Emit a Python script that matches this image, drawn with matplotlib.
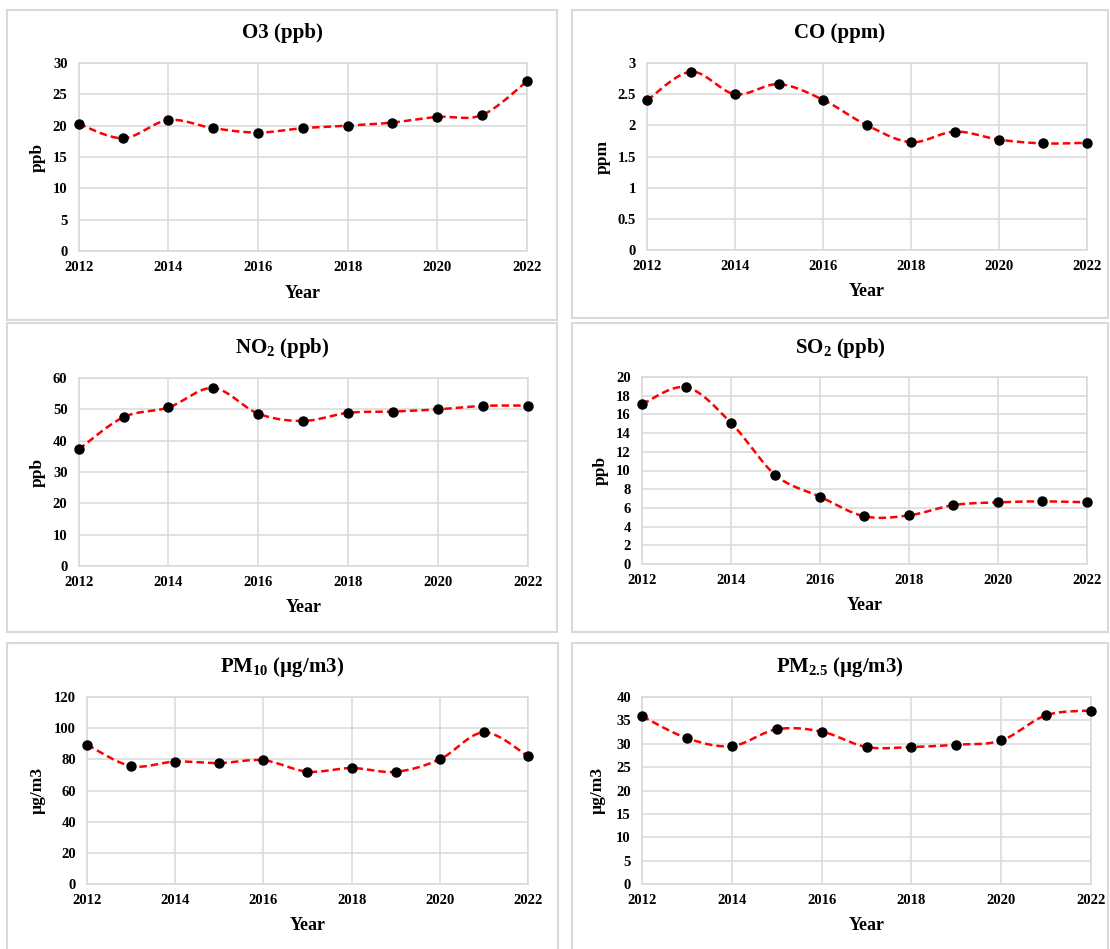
import numpy as np
import matplotlib
matplotlib.use("Agg")
from matplotlib import pyplot as plt
from matplotlib.patches import Rectangle

plt.rcParams['font.family'] = ['Liberation Serif', 'DejaVu Serif']
plt.rcParams['font.weight'] = 'bold'
plt.rcParams['mathtext.fontset'] = 'custom'
plt.rcParams['mathtext.rm'] = 'Liberation Serif:bold'
plt.rcParams['mathtext.it'] = 'Liberation Serif:bold'
plt.rcParams['mathtext.bf'] = 'Liberation Serif:bold'

years = [2012, 2013, 2014, 2015, 2016, 2017, 2018, 2019, 2020, 2021, 2022]

o3 = [20.3, 18.0, 20.9, 19.6, 18.9, 19.6, 20.0, 20.5, 21.4, 21.7, 27.1]
co = [2.40, 2.86, 2.50, 2.66, 2.41, 2.00, 1.73, 1.90, 1.77, 1.71, 1.72]
no2 = [37.2, 47.5, 50.6, 56.8, 48.6, 46.3, 48.9, 49.3, 50.0, 51.1, 51.2]
so2 = [17.1, 18.9, 15.1, 9.5, 7.2, 5.1, 5.2, 6.3, 6.6, 6.7, 6.6]
pm10 = [89.4, 75.7, 78.6, 77.6, 79.4, 72.1, 74.4, 72.0, 80.0, 97.3, 82.0]
pm25 = [35.9, 31.2, 29.5, 33.1, 32.6, 29.3, 29.3, 29.8, 30.7, 36.1, 37.1]

titles = ['O3 (ppb)', 'CO (ppm)', 'NO$_2$ (ppb)', 'SO$_2$ (ppb)',
          'PM$_{10}$ (\u00b5g/m3)', 'PM$_{2.5}$ (\u00b5g/m3)']
ylabels = ['ppb', 'ppm', 'ppb', 'ppb', '\u00b5g/m3', '\u00b5g/m3']
series = [o3, co, no2, so2, pm10, pm25]
ymaxes = [30, 3, 60, 20, 120, 40]
ysteps = [5, 0.5, 10, 2, 20, 5]

W, H = 1110, 949
GRID = '#d9d9d9'

# layout in pixels: box (l, t, r, b), axes (l, t, r, b), ylabel x
boxes = [(7, 10, 557, 320), (572, 10, 1108, 318),
         (7, 323, 557, 632), (572, 323, 1108, 632),
         (7, 643, 558, 960), (572, 643, 1108, 960)]
axboxes = [(78.6, 63, 527, 251), (647, 63, 1087, 250),
           (78.6, 378, 528, 566), (642, 377, 1087, 564),
           (87, 697, 528, 884), (642, 697, 1091, 884)]
ylab_x = [38, 603, 38, 601, 38, 598]
title_dy = [23, 23, 25, 25, 24, 24]


def smooth(x, y, n=30):
    # excel-like smoothed line (catmull-rom bezier)
    x = np.asarray(x, float)
    y = np.asarray(y, float)
    px = np.concatenate([[x[0]], x, [x[-1]]])
    py = np.concatenate([[y[0]], y, [y[-1]]])
    xs, ys = [], []
    t = np.linspace(0, 1, n)
    for i in range(1, len(px) - 2):
        p0 = np.array([px[i], py[i]])
        p3 = np.array([px[i + 1], py[i + 1]])
        p1 = p0 + (np.array([px[i + 1], py[i + 1]]) - np.array([px[i - 1], py[i - 1]])) / 6
        p2 = p3 - (np.array([px[i + 2], py[i + 2]]) - np.array([px[i], py[i]])) / 6
        b = ((1 - t) ** 3)[:, None] * p0 + (3 * (1 - t) ** 2 * t)[:, None] * p1 \
            + (3 * (1 - t) * t ** 2)[:, None] * p2 + (t ** 3)[:, None] * p3
        xs.extend(b[:, 0])
        ys.extend(b[:, 1])
    return xs, ys


fig = plt.figure(figsize=(W / 100, H / 100), dpi=100)

for k in range(6):
    bl, bt, br, bb = boxes[k]
    fig.patches.append(Rectangle((bl / W, 1 - bb / H), (br - bl) / W, (bb - bt) / H,
                                 transform=fig.transFigure, facecolor='none',
                                 edgecolor=GRID, lw=1.5, zorder=0))
    l, t, r, b = axboxes[k]
    ax = fig.add_axes([l / W, 1 - b / H, (r - l) / W, (b - t) / H])
    ax.set_zorder(2)
    ax.patch.set_alpha(0)
    xs, ys = smooth(years, series[k])
    ax.plot(xs, ys, color='#ff0000', lw=1.8, linestyle=(0, (3, 1.6)), clip_on=False, zorder=3)
    ax.plot(years, series[k], 'o', color='black', ms=6.5, clip_on=False, zorder=4)
    ax.set_xlim(2012, 2022)
    ax.set_ylim(0, ymaxes[k])
    ax.set_xticks(range(2012, 2023, 2))
    yt = np.arange(0, ymaxes[k] + ysteps[k] / 2, ysteps[k])
    ax.set_yticks(yt)
    ax.set_yticklabels([('%g' % v) for v in yt])
    ax.grid(True, color=GRID, lw=1.1)
    ax.set_axisbelow(True)
    for s in ax.spines.values():
        s.set_color(GRID)
        s.set_linewidth(1.1)
    ax.tick_params(length=0, labelsize=10.5)
    ax.tick_params(axis='x', pad=7)
    ax.tick_params(axis='y', pad=8)
    fig.text((bl + br) / 2 / W, 1 - (bt + title_dy[k]) / H, titles[k],
             ha='center', va='center', fontsize=15, fontweight='bold')
    fig.text((l + r) / 2 / W, 1 - (b + 42) / H, 'Year',
             ha='center', va='center', fontsize=13, fontweight='bold')
    fig.text(ylab_x[k] / W, 1 - (t + b) / 2 / H, ylabels[k], rotation=90,
             ha='center', va='center', fontsize=12.5, fontweight='bold')

fig.savefig('out.png', dpi=100)
